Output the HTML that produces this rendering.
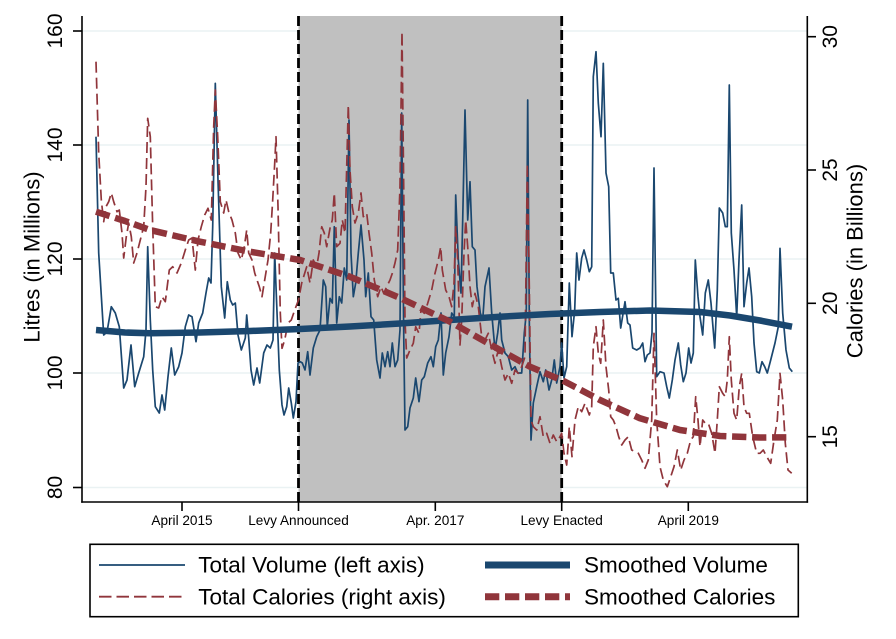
<!DOCTYPE html>
<html><head><meta charset="utf-8"><style>
html,body{margin:0;padding:0;background:#fff;}
svg{display:block;font-family:"Liberation Sans",Arial,sans-serif;}
</style></head><body>
<svg width="896" height="639" viewBox="0 0 896 639" xmlns="http://www.w3.org/2000/svg">
<rect x="0" y="0" width="896" height="639" fill="#fff"/>
<!-- gridlines -->
<g stroke="#eaf2f3" stroke-width="1.6">
<line x1="82" y1="31" x2="807" y2="31"/>
<line x1="82" y1="145" x2="807" y2="145"/>
<line x1="82" y1="259" x2="807" y2="259"/>
<line x1="82" y1="373" x2="807" y2="373"/>
<line x1="82" y1="487.5" x2="807" y2="487.5"/>
</g>
<!-- shaded -->
<rect x="298.5" y="16" width="263.2" height="486" fill="#c0c0c0"/>
<g stroke="#000" stroke-width="2.8" stroke-dasharray="10,4">
<line x1="298.5" y1="16" x2="298.5" y2="502"/>
<line x1="561.7" y1="16" x2="561.7" y2="502"/>
</g>
<!-- thin volume -->
<polyline fill="none" stroke="#1a476f" stroke-width="1.7" stroke-linejoin="round" points="96,136.7 98.7,253 103.7,335 107,332 111.3,306.7 115.3,313 119.3,326.7 123.7,388 127,380 131,345 134.7,386.7 138.7,373 143.7,356.7 146,330 147.7,246.7 150.3,320 152.7,370 155.3,406.7 159.3,413 162,395 164.7,410 168,376.7 171.3,348 174.7,375 178.7,366.7 182,353 185.3,326.7 188.7,315 192,316.7 196,341.7 198.7,323 202.7,313 206,293 208.7,278 211,283 212.7,226.7 215.3,83.3 218,180 221.3,286.7 224.7,318 227.3,281.7 230.3,300 232.7,305 235.3,303 238,335 241.3,350 245.3,338 246.7,315 248.7,338 251,370 253.7,385 257,368 259.7,383 263.7,353 267,345 270.3,348 273,340 274.7,253 277.3,320 279.3,370 282,405 284,415 286.7,406.7 288.7,388 291.3,403 293.3,418 296,401.7 298,363 300.3,361.7 302.3,363 305,370 307.7,351.7 310,375 313.3,348 316.7,336.7 320,330 323.3,280 325.7,286.7 327.3,326.7 330,298.3 332.3,303 334.3,226.7 336.7,323 339.3,296.7 341.7,303 344.3,268 346.7,280 349,120 351,253 353.3,296.7 355.7,283 358.3,253 361,225 364,260 365.7,296.7 368.3,273 371,316.7 373.7,320 376.7,360 380,378 382.3,353 385,366.7 387.7,351.7 390,366.7 392.3,343 395,366.7 397.7,360 400,330 401.7,113 403.7,333 405,430 407.7,426.7 410,408 413.3,398 415.7,378 419,401.7 421.7,380 424.3,376.7 427.7,363 431,356.7 433.3,366.7 435.7,346.7 438.3,340 441,313 443.3,375 445.7,353 449,336.7 451.7,313 454.3,316.7 455.7,195 458.3,260 461,293 462.7,220 465,110 467.7,220 470,181.7 472.3,246.7 475,250 477,286.7 480.3,313 482.7,320 485,286.7 489,268 491.7,313 495,350 497.7,333 500,313 501.7,340 505,353 508.3,356.7 511.7,370 515,366.7 517.7,373 521.7,373 524.3,333 526.3,313 527.7,100 529.3,320 531,440 533.3,403 536.7,386.7 540,371.7 543.3,381.7 545.7,370 549,390 551.7,380 554.3,360 556.7,383 560,366.7 561.7,343 564,378 566.7,366.7 569.3,283 572,336.7 574.7,310 576.7,253 579,280 581.7,258 584,250 586.7,260 589.3,271.7 591.7,266.7 593.3,76.7 596,51.7 598.3,103 601,136.7 603.3,63.3 606,173 608.7,186.7 610.7,273 613.3,273 616,300 618.3,298.3 620.7,328 625,301.7 627.7,323 630,325 632.7,348 636.7,350 640,348 642.7,343 645,361.7 647.3,355 650,353 652,333 654,168 656.7,376.7 660,371.7 664,373 666.7,386.7 669.3,398 672.3,380 675,360 678.3,343 680.7,365 683.3,381.7 686,373 688.7,348 691,363 693.3,353 695.3,260 698,296.7 700,316.7 702.7,335 705.3,293 708.3,280 711,303 714.7,348 717.3,290 719.3,208 722.7,213 725.3,226.7 727.3,226.7 729.3,85 731.3,233 734,270 736.7,316.7 739,260 741.7,205 744,306.7 746.7,283 749,268 751.7,296.7 754,343 756.7,371.7 759.3,373 762,361.7 764.7,366.7 767.3,373 770.7,360 775,343 778.3,326.7 780,248.3 782.7,313 786,350 789.3,368 792.3,371.7"/>
<!-- thin calories -->
<polyline fill="none" stroke="#90353b" stroke-width="1.7" stroke-dasharray="11,5" stroke-linejoin="round" points="96,61.7 98.7,153 101.3,200 103.7,221.7 106,206.7 108.7,201.7 111.3,193 113.7,201.7 117,211.7 119.3,210 122,233 123.7,258 126.3,236.7 128.7,223 131.3,236.7 133.7,263 137,253 140.3,240 143.7,226.7 146,186.7 147.7,118.3 150.3,136.7 152.7,226.7 155.3,306.7 158.7,308 162,296.7 165.3,301.7 169.3,270 172.7,266.7 177,273 181.3,263 185.3,250 188.7,240 192,238 195.3,270 198,240 201.3,226.7 204.7,215 208,208.3 211.3,220 213.7,126.7 215.3,90 217.7,136.7 220.3,201.7 223.7,213 226,200 228.7,211.7 232,220 235.3,233 238,253 241.3,260 244.3,246.7 246.7,230 248.7,253 252,260 254.7,273 257,280 259.3,286.7 262,296.7 264.7,280 268,260 270.7,233 272.7,200 274.7,163.3 276,136.7 278,206.7 280.3,313 282,348.3 284.7,340 288,323 291.3,320 294.7,310 298.5,300 301.7,283 306.7,266.7 310,283 313.3,260 316.7,266.7 319,253 321.7,226.7 324.3,233 326.7,246.7 330,228.3 332.3,220 334.3,193 336.7,246.7 340,243.3 342.3,220 345,233 348.3,105 350,170 352.3,206.7 355,223 358.3,213 361,193 363.3,216.7 366.7,213 369,233 371.7,253 374.3,280 377.7,296.7 381,286.7 383.7,293.3 386.7,286.7 390,280 392.3,273.3 395,263 397.7,250 400,186.7 402,31.7 403.7,186.7 405,320 406.7,358 410,350 413.3,343.3 415.7,326.7 419,333.3 421,310 424.3,313.3 427.7,303.3 431.7,290 435,273.3 438.3,260 440.7,246.7 442.3,270 445.7,290 449,296.7 451.7,306.7 454,283.3 455.7,226.7 457.7,260 460,345 461.7,320 464,253.3 465.7,220 467.7,246.7 470,286.7 472.3,306.7 475,293.3 478.3,306.7 481.7,336.7 485,340 488.3,333.3 491.7,350 495,363.3 498.3,350 501.7,366.7 505,380 508.3,373.3 511.7,383.3 515,370 518.3,373.3 521.7,366.7 525,356.7 527.3,163.3 529.3,286.7 531,420 533.3,426.7 536.7,430 540,416.7 543.3,436.7 546.7,433.3 550,443.3 553.3,435 556.7,441.7 560,436.7 561.7,433.3 564,453.3 566.7,465 569.3,426.7 572,456.7 575,420 578.3,406.7 581.7,411.7 585,403.3 589.3,415 591.7,406.7 593.3,346.7 596,326.7 598.3,353.3 600.7,363.3 603.3,320 606,366.7 608.7,390 610.7,416.7 613.3,420 616,426.7 618.7,436.7 621.7,445 625,440 628.3,436.7 631.7,450 635,451.7 638.3,453.3 641.7,460 645,468.3 648.3,460 651.7,420 654,333.3 656.7,420 660,466.7 663.3,480 667.3,486.7 670.7,476.7 674,466.7 677.3,450 680.7,470 684,460 687.3,453.3 690.7,440 693.3,436.7 695.7,396.7 698,420 700,446.7 702.7,420 705.3,423.3 708.3,423.3 711.7,433.3 715,453.3 717.3,420 719.3,386.7 722.7,393.3 725.3,396.7 727.3,380 729.3,336.7 731.3,380 734,413.3 736.7,420 739.3,386.7 741.7,373.3 744,406.7 746.7,413.3 749.3,413.3 752.7,436.7 756.7,453.3 760,453.3 763.3,450 766.7,456.7 770.7,463.3 774,440 777.3,420 780,373.3 782.7,400 785.3,443.3 788,470 791.7,473.3"/>
<!-- smoothed volume -->
<polyline fill="none" stroke="#1a476f" stroke-width="6.5" stroke-linejoin="round" points="96,330 125,332.5 150,333.3 200,332.5 250,331 300,329 350,326.5 400,323.5 450,320 500,316.7 550,314 600,312 650,310.5 700,312 730,315.5 760,320.5 792,326.7"/>
<!-- smoothed calories -->
<polyline fill="none" stroke="#90353b" stroke-width="6.5" stroke-dasharray="14.3,5.7" stroke-linejoin="round" points="96,211.7 125,221 150,230 200,241.7 250,251.7 300,260 350,276.7 400,298 450,321.7 500,350 530,366.7 565,381.7 600,400 640,418.3 680,430 720,436 760,437.5 792,437.3"/>
<!-- axes -->
<g stroke="#000" stroke-width="1.6" fill="none">
<line x1="82" y1="16" x2="82" y2="502.8"/>
<line x1="807.3" y1="16" x2="807.3" y2="502.8"/>
<line x1="81.2" y1="502" x2="808.1" y2="502"/>
<line x1="73" y1="31" x2="82" y2="31"/>
<line x1="73" y1="145" x2="82" y2="145"/>
<line x1="73" y1="259" x2="82" y2="259"/>
<line x1="73" y1="373" x2="82" y2="373"/>
<line x1="73" y1="487.5" x2="82" y2="487.5"/>
<line x1="807.3" y1="36.7" x2="816" y2="36.7"/>
<line x1="807.3" y1="170" x2="816" y2="170"/>
<line x1="807.3" y1="303.3" x2="816" y2="303.3"/>
<line x1="807.3" y1="436.7" x2="816" y2="436.7"/>
<line x1="182" y1="502" x2="182" y2="511"/>
<line x1="298.5" y1="502" x2="298.5" y2="511"/>
<line x1="435.3" y1="502" x2="435.3" y2="511"/>
<line x1="561.7" y1="502" x2="561.7" y2="511"/>
<line x1="688.3" y1="502" x2="688.3" y2="511"/>
</g>
<!-- left tick labels -->
<g font-size="21" fill="#000" text-anchor="middle">
<text transform="translate(62,31) rotate(-90)">160</text>
<text transform="translate(62,145) rotate(-90)">140</text>
<text transform="translate(62,259) rotate(-90)">120</text>
<text transform="translate(62,373) rotate(-90)">100</text>
<text transform="translate(62,487.5) rotate(-90)">80</text>
<text transform="translate(837,36.7) rotate(-90)">30</text>
<text transform="translate(837,170) rotate(-90)">25</text>
<text transform="translate(837,303.3) rotate(-90)">20</text>
<text transform="translate(837,436.7) rotate(-90)">15</text>
</g>
<g font-size="22" fill="#000" text-anchor="middle">
<text transform="translate(39.5,257) rotate(-90)">Litres (in Millions)</text>
<text transform="translate(862.5,261) rotate(-90)">Calories (in Billions)</text>
</g>
<!-- x tick labels -->
<g font-size="13.6" fill="#000" text-anchor="middle">
<text x="182" y="525">April 2015</text>
<text x="298.5" y="525">Levy Announced</text>
<text x="435.3" y="525">Apr. 2017</text>
<text x="561.7" y="525">Levy Enacted</text>
<text x="688.3" y="525">April 2019</text>
</g>
<!-- legend -->
<rect x="90" y="544.3" width="708.3" height="72.4" fill="#fff" stroke="#000" stroke-width="1.6"/>
<line x1="99" y1="565" x2="185" y2="565" stroke="#1a476f" stroke-width="1.8"/>
<line x1="99" y1="596.7" x2="185" y2="596.7" stroke="#90353b" stroke-width="1.8" stroke-dasharray="12.5,5"/>
<line x1="485" y1="565" x2="570" y2="565" stroke="#1a476f" stroke-width="7"/>
<line x1="485" y1="596.7" x2="570" y2="596.7" stroke="#90353b" stroke-width="7" stroke-dasharray="14.3,5.7"/>
<g font-size="22.5" fill="#000">
<text x="198.3" y="572.5">Total Volume (left axis)</text>
<text x="198.3" y="604.3">Total Calories (right axis)</text>
<text x="584" y="572.5">Smoothed Volume</text>
<text x="584" y="604.3">Smoothed Calories</text>
</g>
</svg>
</body></html>
